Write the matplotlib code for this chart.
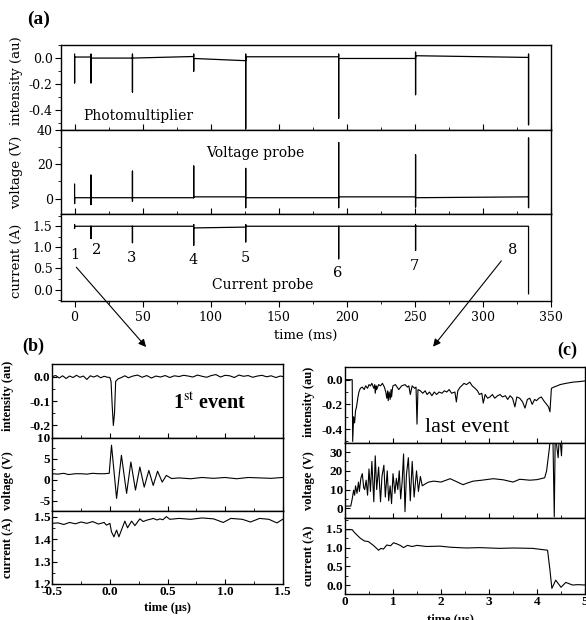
import matplotlib.pyplot as plt
from matplotlib.ticker import MultipleLocator, FormatStrFormatter

plt.rcParams["axes.unicode_minus"] = False
plt.rcParams["mathtext.fontset"] = "stix"

W, H = 586, 620

# ---------------- (a) overview, times in ms ----------------
events_ms = [0, 12, 42.5, 87.5, 125.7, 194, 250.5, 333.5]

pm_hi = [0.03, 0.03, 0.03, 0.03, 0.03, 0.03, 0.045, 0.03]
pm_lo = [-0.19, -0.19, -0.26, -0.10, -0.54, -0.46, -0.28, -0.51]
pm_lev0 = [0.008, 0.0, 0.0, -0.003, 0.01, -0.003, 0.018, 0.0]
pm_lev1 = [0.008, 0.0, 0.012, -0.02, 0.01, -0.003, 0.005]

vp_hi = [8.4, 13.7, 16.0, 19.0, 17.6, 32.7, 25.5, 35.3]
vp_lo = [-2.9, -3.5, -1.6, 0.5, -5.3, -5.3, -4.9, -5.3]
vp_lev0 = [0.5, 0.5, 0.5, 1.0, 0.5, 1.0, 0.5, 0.5]
vp_lev1 = [0.5, 0.5, 0.5, 1.0, 0.5, 1.0, 1.0]

cp_hi = [1.54, 1.50, 1.50, 1.54, 1.54, 1.50, 1.53, 1.50]
cp_lo = [1.45, 1.21, 1.11, 1.05, 1.13, 0.73, 0.93, -0.10]
cp_lev0 = [1.50, 1.50, 1.50, 1.46, 1.50, 1.50, 1.50, -0.10]
cp_lev1 = [1.50, 1.50, 1.50, 1.48, 1.50, 1.50, 1.50]

event_names = ["1", "2", "3", "4", "5", "6", "7", "8"]
name_t = [0.5, 16, 41.7, 86.8, 125.5, 193, 249.3, 321.6]
name_y = [0.82, 0.94, 0.74, 0.71, 0.74, 0.40, 0.56, 0.94]

# ---------------- (b) first event, times in us ----------------
b_int_t = [-0.5, -0.47, -0.44, -0.41, -0.38, -0.35, -0.32, -0.29, -0.26, -0.23,
           -0.2, -0.17, -0.14, -0.11, -0.08, -0.05, -0.02, 0.0, 0.01, 0.02,
           0.03, 0.04, 0.05, 0.07, 0.1, 0.13, 0.16, 0.2, 0.24, 0.28, 0.32,
           0.36, 0.4, 0.44, 0.48, 0.52, 0.56, 0.6, 0.64, 0.68, 0.72, 0.76,
           0.8, 0.84, 0.88, 0.92, 0.96, 1.0, 1.04, 1.08, 1.12, 1.16, 1.2,
           1.24, 1.28, 1.32, 1.36, 1.4, 1.44, 1.48, 1.5]
b_int_v = [0.0, 0.004, -0.006, 0.003, -0.008, 0.002, -0.004, 0.005, -0.003, 0.002,
           -0.012, 0.003, -0.002, 0.004, -0.005, 0.001, -0.003, -0.004, -0.02, -0.12,
           -0.2, -0.15, -0.02, -0.01, -0.004, 0.003, -0.005, 0.002, 0.006, -0.003, 0.004,
           -0.006, 0.002, -0.002, 0.004, -0.004, 0.003, 0.0, 0.005, 0.002, -0.002, 0.006,
           0.001, -0.003, 0.004, 0.008, -0.002, 0.005, 0.003, -0.004, 0.006, 0.001, 0.004,
           -0.003, 0.002, 0.005, -0.001, 0.003, -0.004, 0.002, 0.0]

b_vol_t = [-0.5, -0.45, -0.4, -0.36, -0.3, -0.25, -0.2, -0.15, -0.1, -0.05,
           -0.006, 0.014, 0.058, 0.1, 0.145, 0.182, 0.222, 0.26, 0.298, 0.338,
           0.376, 0.414, 0.454, 0.49, 0.535, 0.6, 0.7, 0.8, 0.9, 1.0, 1.1,
           1.2, 1.3, 1.4, 1.5]
b_vol_v = [1.4, 1.3, 1.5, 1.2, 1.4, 1.4, 1.3, 1.5, 1.4, 1.4,
           1.5, 8.2, -4.5, 5.8, -3.3, 4.2, -2.5, 3.0, -1.8, 2.2,
           -1.4, 2.0, -0.6, 1.0, 0.25, 0.4, 0.2, 0.5, 0.3, 0.5, 0.2,
           0.5, 0.4, 0.3, 0.5]

b_cur_t = [-0.5, -0.45, -0.4, -0.35, -0.3, -0.25, -0.2, -0.15, -0.1, -0.05,
           -0.03, 0.0, 0.014, 0.035, 0.058, 0.078, 0.1, 0.13, 0.153, 0.188,
           0.217, 0.26, 0.29, 0.318, 0.35, 0.376, 0.41, 0.434, 0.46, 0.49,
           0.52, 0.6, 0.7, 0.8, 0.9, 0.984, 1.05, 1.15, 1.22, 1.3, 1.38,
           1.45, 1.5]
b_cur_v = [1.470, 1.472, 1.465, 1.474, 1.468, 1.476, 1.470, 1.478, 1.467, 1.474,
           1.462, 1.470, 1.432, 1.410, 1.440, 1.410, 1.440, 1.480, 1.450, 1.480,
           1.460, 1.490, 1.478, 1.484, 1.488, 1.492, 1.485, 1.490, 1.486, 1.500,
           1.488, 1.492, 1.488, 1.494, 1.490, 1.474, 1.492, 1.488, 1.476, 1.492,
           1.488, 1.472, 1.488]

# ---------------- (c) last event, times in us ----------------
c_int_t = [0.0, 0.15, 0.16, 0.18, 0.2, 0.22, 0.24, 0.27, 0.29, 0.32,
           0.36, 0.4, 0.43, 0.47, 0.5, 0.53, 0.56, 0.6, 0.62, 0.63,
           0.65, 0.66, 0.7, 0.74, 0.78, 0.82, 0.85, 0.87, 0.89, 0.9,
           0.92, 0.94, 0.96, 0.97, 0.99, 1.0, 1.05, 1.12, 1.18, 1.25,
           1.3, 1.33, 1.36, 1.4, 1.45, 1.48, 1.5, 1.52, 1.57, 1.62,
           1.67, 1.71, 1.76, 1.81, 1.86, 1.91, 1.96, 2.02, 2.07, 2.12,
           2.17, 2.22, 2.29, 2.32, 2.35, 2.4, 2.43, 2.48, 2.53, 2.6,
           2.65, 2.71, 2.76, 2.8, 2.85, 2.88, 2.92, 2.97, 3.02, 3.07,
           3.12, 3.18, 3.23, 3.28, 3.34, 3.39, 3.44, 3.49, 3.54, 3.58,
           3.64, 3.7, 3.75, 3.8, 3.85, 3.9, 3.95, 3.99, 4.04, 4.09,
           4.14, 4.2, 4.24, 4.27, 4.3, 4.35, 4.42, 4.48, 4.6, 4.75,
           4.9, 5.0]
c_int_v = [0.0, 0.0, -0.5, -0.3, -0.35, -0.25, -0.22, -0.14, -0.1, -0.07,
           -0.06, -0.08, -0.05, -0.07, -0.04, -0.05, -0.03, -0.07, -0.04, -0.11,
           -0.05, -0.08, -0.04, -0.05, -0.03, -0.06, -0.1, -0.15, -0.09, -0.17,
           -0.1, -0.16, -0.08, -0.14, -0.07, -0.05, -0.04, -0.08, -0.05, -0.04,
           -0.06, -0.05, -0.12, -0.05, -0.07, -0.06, -0.36, -0.08, -0.09, -0.11,
           -0.09, -0.12, -0.1, -0.13, -0.1, -0.12, -0.1, -0.11, -0.09, -0.1,
           -0.08, -0.11, -0.1, -0.18, -0.09, -0.06, -0.05, -0.03, -0.04, -0.02,
           -0.05, -0.07, -0.09, -0.12, -0.11, -0.19, -0.12, -0.15, -0.14, -0.12,
           -0.15, -0.13, -0.12, -0.14, -0.13, -0.16, -0.13, -0.15, -0.22, -0.14,
           -0.15, -0.18, -0.23, -0.16, -0.15, -0.2, -0.16, -0.17, -0.15, -0.14,
           -0.17, -0.2, -0.22, -0.26, -0.07, -0.06, -0.05, -0.04, -0.03, -0.02,
           -0.015, -0.01]

c_vol_t = [0.0, 0.12, 0.15, 0.18, 0.2, 0.22, 0.25, 0.28, 0.3, 0.33, 0.36, 0.39,
           0.41, 0.44, 0.47, 0.5, 0.53, 0.56, 0.6, 0.63, 0.66, 0.7, 0.74, 0.77,
           0.81, 0.84, 0.88, 0.91, 0.94, 0.97, 1.0, 1.04, 1.07, 1.1, 1.13, 1.16,
           1.19, 1.22, 1.25, 1.28, 1.32, 1.36, 1.4, 1.44, 1.49, 1.53, 1.57, 1.61,
           1.67, 1.74, 1.85, 2.0, 2.19, 2.3, 2.46, 2.55, 2.67, 2.85, 3.09, 3.3,
           3.5, 3.64, 3.85, 4.0, 4.16, 4.2, 4.26, 4.28, 4.33, 4.36, 4.38, 4.44,
           4.47, 4.51, 4.53, 5.0]
c_vol_v = [1.2, 1.2, 5.0, 9.7, 7.0, 12.0, 8.0, 14.0, 9.0, 16.0, 18.5, 11.0,
           10.0, 15.0, 7.0, 21.0, 9.0, 25.0, 3.5, 28.0, 10.0, 22.0, 3.5, 17.0,
           23.0, 6.0, 20.0, 4.0, 12.0, 2.5, 18.5, 8.0, 16.0, 10.0, 20.0, 5.0,
           14.0, 29.0, -1.8, 18.0, 27.0, 4.0, 25.0, 6.0, 20.0, 9.0, 17.0, 12.0,
           13.0, 14.0, 14.5, 14.0, 15.8, 14.5, 12.6, 13.5, 14.5, 15.0, 15.8, 15.2,
           14.0, 15.5, 15.0, 15.3, 16.3, 20.0, 32.5, 40.0, 40.0, -4.5, 40.0, 27.0,
           40.0, 28.0, 40.0, 40.0]

c_cur_t = [0.0, 0.15, 0.2, 0.32, 0.4, 0.49, 0.6, 0.7, 0.75, 0.8, 0.87, 0.95,
           1.01, 1.08, 1.15, 1.22, 1.3, 1.4, 1.5, 1.7, 1.98, 2.2, 2.53, 2.8,
           3.22, 3.5, 3.91, 4.22, 4.27, 4.31, 4.39, 4.5, 4.6, 4.74, 4.85, 5.0]
c_cur_v = [1.48, 1.48, 1.40, 1.25, 1.18, 1.16, 1.05, 0.93, 0.98, 0.96, 1.07, 1.05,
           1.13, 1.10, 1.06, 1.00, 1.06, 1.03, 1.06, 1.03, 1.04, 1.01, 0.99, 1.00,
           0.98, 0.99, 0.98, 0.93, 0.40, -0.09, 0.13, -0.06, 0.07, 0.00, 0.01, 0.00]


def spike_trace(t_ev, hi, lo, lev0, lev1):
    xs, ys = [], []
    for i, t in enumerate(t_ev):
        xs += [t, t, t]
        ys += [hi[i], lo[i], lev0[i]]
        if i < len(t_ev) - 1:
            xs.append(t_ev[i + 1])
            ys.append(lev1[i])
    return xs, ys


def px_rect(x0, x1, y0, y1):
    return [x0 / W, 1 - y1 / H, (x1 - x0) / W, (y1 - y0) / H]


fig = plt.figure(figsize=(W / 100, H / 100), dpi=100)

# ---- panel (a)
serif = "DejaVu Serif"
a1 = fig.add_axes(px_rect(61, 551, 45, 130))
a2 = fig.add_axes(px_rect(61, 551, 130, 214))
a3 = fig.add_axes(px_rect(61, 551, 214, 301))

for ax, (hi, lo, l0, l1) in zip(
    [a1, a2, a3],
    [(pm_hi, pm_lo, pm_lev0, pm_lev1), (vp_hi, vp_lo, vp_lev0, vp_lev1),
     (cp_hi, cp_lo, cp_lev0, cp_lev1)],
):
    xs, ys = spike_trace(events_ms, hi, lo, l0, l1)
    ax.plot(xs, ys, color="k", lw=0.9)
    ax.set_xlim(-10, 350)
    ax.xaxis.set_major_locator(MultipleLocator(50))
    ax.xaxis.set_minor_locator(MultipleLocator(25))
    ax.tick_params(axis="y", which="major", direction="out", length=4, pad=2,
                   labelsize=9, labelfontfamily=serif)
    ax.tick_params(axis="y", which="minor", direction="out", length=2.5)
    ax.tick_params(axis="x", which="major", length=4, labelsize=9,
                   labelfontfamily=serif)
    ax.tick_params(axis="x", which="minor", length=2.5)
    for s in ax.spines.values():
        s.set_linewidth(1.0)

a1.set_ylim(-0.55, 0.1)
a1.yaxis.set_major_locator(MultipleLocator(0.2))
a1.yaxis.set_minor_locator(MultipleLocator(0.1))
a1.yaxis.set_major_formatter(FormatStrFormatter("%.1f"))
a2.set_ylim(-9, 40)
a2.yaxis.set_major_locator(MultipleLocator(20))
a2.yaxis.set_minor_locator(MultipleLocator(10))
a3.set_ylim(-0.27, 1.79)
a3.yaxis.set_major_locator(MultipleLocator(0.5))
a3.yaxis.set_minor_locator(MultipleLocator(0.25))
a3.yaxis.set_major_formatter(FormatStrFormatter("%.1f"))

for ax in (a1, a2):
    ax.tick_params(axis="x", which="both", direction="in", labelbottom=False)
a3.tick_params(axis="x", which="both", direction="out")

a1.set_ylabel("intensity (au)", family=serif, fontsize=9.5)
a2.set_ylabel("voltage (V)", family=serif, fontsize=9.5)
a3.set_ylabel("current (A)", family=serif, fontsize=9.5)
a1.yaxis.set_label_coords(-0.077, 0.58)
a2.yaxis.set_label_coords(-0.077, 0.49)
a3.yaxis.set_label_coords(-0.077, 0.46)
a3.set_xlabel("time (ms)", family=serif, fontsize=9.5, labelpad=3)

a1.text(6.5, -0.44, "Photomultiplier", family=serif, fontsize=10,
        ha="left", va="center")
a2.text(133, 26.6, "Voltage probe", family=serif, fontsize=10,
        ha="center", va="center")
a3.text(138, 0.10, "Current probe", family=serif, fontsize=10,
        ha="center", va="center")
for nm, t, y in zip(event_names, name_t, name_y):
    a3.text(t, y, nm, family=serif, fontsize=10.5, ha="center", va="center")

fig.text(27 / W, 1 - 19 / H, "(a)", family="Liberation Serif",
         weight="bold", fontsize=14, ha="left", va="center")

# ---- panels (b) and (c)
bold = "Liberation Serif"
b1 = fig.add_axes(px_rect(52.3, 282.7, 364.3, 437.7))
b2 = fig.add_axes(px_rect(52.3, 282.7, 437.7, 511))
b3 = fig.add_axes(px_rect(52.3, 282.7, 511, 584))
c1 = fig.add_axes(px_rect(345, 585, 367.3, 442.7))
c2 = fig.add_axes(px_rect(345, 585, 442.7, 517.7))
c3 = fig.add_axes(px_rect(345, 585, 517.7, 594))

b1.plot(b_int_t, b_int_v, color="k", lw=0.8)
b2.plot(b_vol_t, b_vol_v, color="k", lw=0.8)
b3.plot(b_cur_t, b_cur_v, color="k", lw=0.8)
c1.plot(c_int_t, c_int_v, color="k", lw=0.8)
c2.plot(c_vol_t, c_vol_v, color="k", lw=0.8)
c3.plot(c_cur_t, c_cur_v, color="k", lw=0.8)

for ax in (b1, b2, b3):
    ax.set_xlim(-0.5, 1.5)
    ax.xaxis.set_major_locator(MultipleLocator(0.5))
    ax.xaxis.set_minor_locator(MultipleLocator(0.25))
    ax.xaxis.set_major_formatter(FormatStrFormatter("%.1f"))
for ax in (c1, c2, c3):
    ax.set_xlim(0, 5)
    ax.xaxis.set_major_locator(MultipleLocator(1))
    ax.xaxis.set_minor_locator(MultipleLocator(0.5))

b1.set_ylim(-0.25, 0.05)
b1.yaxis.set_major_locator(MultipleLocator(0.1))
b1.yaxis.set_minor_locator(MultipleLocator(0.05))
b1.yaxis.set_major_formatter(FormatStrFormatter("%.1f"))
b2.set_ylim(-7.5, 10)
b2.yaxis.set_major_locator(MultipleLocator(5))
b2.yaxis.set_minor_locator(MultipleLocator(2.5))
b3.set_ylim(1.2, 1.525)
b3.yaxis.set_major_locator(MultipleLocator(0.1))
b3.yaxis.set_minor_locator(MultipleLocator(0.05))
b3.yaxis.set_major_formatter(FormatStrFormatter("%.1f"))

c1.set_ylim(-0.51, 0.1)
c1.yaxis.set_major_locator(MultipleLocator(0.2))
c1.yaxis.set_minor_locator(MultipleLocator(0.1))
c1.yaxis.set_major_formatter(FormatStrFormatter("%.1f"))
c2.set_ylim(-5, 35)
c2.yaxis.set_major_locator(MultipleLocator(10))
c2.yaxis.set_minor_locator(MultipleLocator(5))
c3.set_ylim(-0.24, 1.8)
c3.yaxis.set_major_locator(MultipleLocator(0.5))
c3.yaxis.set_minor_locator(MultipleLocator(0.25))
c3.yaxis.set_major_formatter(FormatStrFormatter("%.1f"))

for ax in (b1, b2, b3, c1, c2, c3):
    ax.tick_params(which="major", direction="in", length=3.5, pad=1.5,
                   labelsize=9.5, labelfontfamily=bold)
    ax.tick_params(which="minor", direction="in", length=2)
    for s in ax.spines.values():
        s.set_linewidth(1.0)
for ax in (b1, b2, c1, c2):
    ax.tick_params(axis="x", labelbottom=False)

lab = dict(family=bold, weight="bold", fontsize=9)
b1.set_ylabel("intensity (au)", **lab)
b2.set_ylabel("voltage (V)", **lab)
b3.set_ylabel("current (A)", **lab)
b1.yaxis.set_label_coords(-0.165, 0.57)
b2.yaxis.set_label_coords(-0.165, 0.42)
b3.yaxis.set_label_coords(-0.165, 0.49)
b3.set_xlabel("time (\u03bcs)", **lab)
b3.xaxis.set_label_coords(0.5, -0.24)

c1.set_ylabel("intensity (au)", **lab)
c2.set_ylabel("voltage (V)", **lab)
c3.set_ylabel("current (A)", **lab)
c1.yaxis.set_label_coords(-0.125, 0.54)
c2.yaxis.set_label_coords(-0.125, 0.49)
c3.yaxis.set_label_coords(-0.125, 0.5)
c3.set_xlabel("time (\u03bcs)", **lab)
c3.xaxis.set_label_coords(0.44, -0.26)

b1.text(0.87, -0.11, "1$^{\\rm st}$ event", family=bold, weight="bold",
        fontsize=14.5, ha="center", va="center")
c1.text(2.55, -0.385, "last event", family=bold, fontsize=16,
        ha="center", va="center")

fig.text(22 / W, 1 - 346 / H, "(b)", family=bold, weight="bold",
         fontsize=13, ha="left", va="center")
fig.text(557 / W, 1 - 350 / H, "(c)", family=bold, weight="bold",
         fontsize=13, ha="left", va="center")

arrow = dict(arrowstyle="-|>", color="k", lw=0.8, mutation_scale=11,
             shrinkA=0, shrinkB=0)
b1.annotate("", xy=(0.407, 1.236), xycoords="axes fraction",
            xytext=(1.25, 0.53), textcoords=a3.transData,
            arrowprops=arrow, annotation_clip=False)
c1.annotate("", xy=(0.367, 1.273), xycoords="axes fraction",
            xytext=(313.5, 0.68), textcoords=a3.transData,
            arrowprops=arrow, annotation_clip=False)

for ax in (b1, b2, b3, c1, c2, c3):
    for t in ax.get_xticklabels() + ax.get_yticklabels():
        t.set_fontweight("bold")

fig.savefig("out.png", dpi=100)
